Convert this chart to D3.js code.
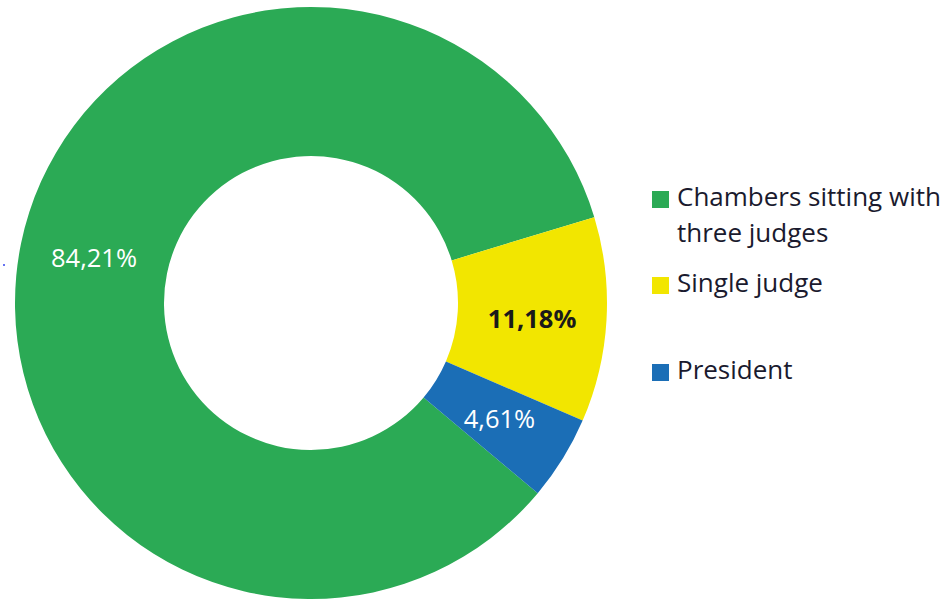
<!DOCTYPE html>
<html>
<head>
<meta charset="utf-8">
<script src="https://cdn.jsdelivr.net/npm/d3@7"></script>
<style>
  body { margin: 0; background: #fff; }
  text { font-family: "Open Sans", sans-serif; }
</style>
</head>
<body>
<script>
//chart data
var categories = ["Chambers sitting with three judges", "Single judge", "President"];
var values = [84.21, 11.18, 4.61];
var valueLabels = ["84,21%", "11,18%", "4,61%"];
var legendLines = [["Chambers sitting with", "three judges"], ["Single judge"], ["President"]];

var colors = ["#2baa55", "#f2e600", "#1b6eb6"];
var labelColors = ["#ffffff", "#1a1a1a", "#ffffff"];

var width = 949,
    height = 599;

var cx = 311, cy = 303,
    outerR = 296, innerR = 147;

var svg = d3.select("body")
    .append("svg")
    .attr("width", width)
    .attr("height", height);

var color = d3.scaleOrdinal().domain(categories).range(colors);

//start angle (green slice starts lower right)
var start = 130 * Math.PI / 180;

var pie = d3.pie()
    .sort(null)
    .startAngle(start)
    .endAngle(start + 2 * Math.PI);

var arc = d3.arc()
    .innerRadius(innerR)
    .outerRadius(outerR);

var g = svg.append("g")
    .attr("transform", "translate(" + cx + "," + cy + ")");

var arcs = pie(values);

g.selectAll(".slice")
    .data(arcs)
    .enter()
    .append("path")
    .attr("class", "slice")
    .attr("d", arc)
    .attr("fill", function(d, i) { return color(categories[i]); });

g.selectAll(".val")
    .data(arcs)
    .enter()
    .append("text")
    .attr("class", "val")
    .attr("transform", function(d) { return "translate(" + arc.centroid(d) + ")"; })
    .attr("text-anchor", "middle")
    .attr("dy", function(d, i) { return i === 1 ? "0.5em" : "0.35em"; })
    .attr("font-size", 25.5)
    .attr("font-weight", function(d, i) { return i === 1 ? "bold" : "normal"; })
    .attr("fill", function(d, i) { return labelColors[i]; })
    .text(function(d, i) { return valueLabels[i]; });

//legend
var legendY = [191, 277, 364];
var legend = svg.selectAll(".legend")
    .data(categories)
    .enter()
    .append("g")
    .attr("class", "legend")
    .attr("transform", function(d, i) { return "translate(652," + legendY[i] + ")"; });

legend.append("rect")
    .attr("width", 17)
    .attr("height", 17)
    .attr("fill", function(d) { return color(d); });

legend.append("text")
    .attr("x", 25)
    .attr("y", 15)
    .attr("font-size", 26)
    .attr("fill", "#1a1a2e")
    .selectAll("tspan")
    .data(function(d, i) { return legendLines[i]; })
    .enter()
    .append("tspan")
    .attr("x", 25)
    .attr("dy", function(d, i) { return i === 0 ? 0 : 36; })
    .text(function(d) { return d; });

//stray dot on the left edge of the original
svg.append("circle")
    .attr("cx", 4)
    .attr("cy", 265)
    .attr("r", 1)
    .attr("fill", "#3344ee");
</script>
</body>
</html>
